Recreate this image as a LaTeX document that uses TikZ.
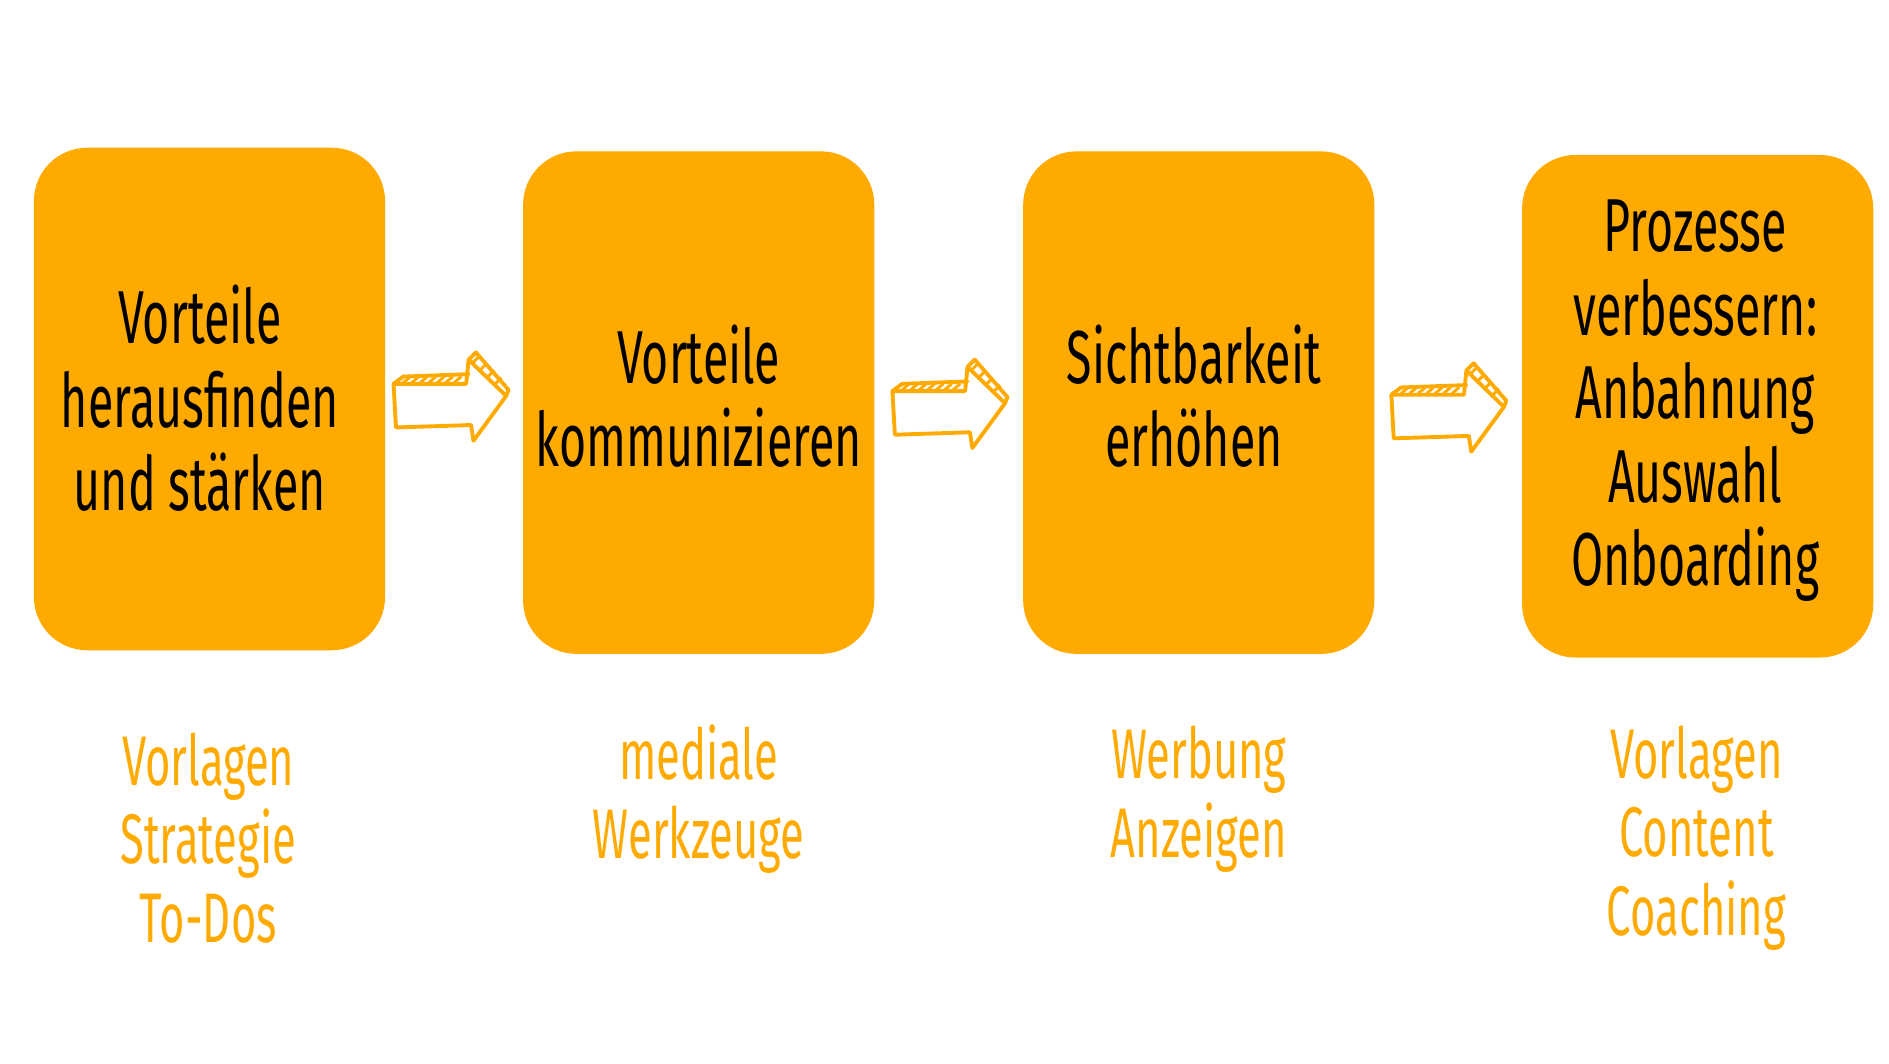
\documentclass[tikz,border=0pt]{standalone}
\usepackage{fontspec}
\setmainfont[FakeStretch=0.62]{Fira Sans}
\definecolor{org}{HTML}{FFAA00}
\tikzset{
 box/.style={fill=org,rounded corners=22pt,minimum width=145pt,minimum height=207.5pt,inner sep=0pt},
 btxt/.style={align=center,font=\fontsize{31}{34.5}\selectfont,text=black},
 ltxt/.style={align=center,font=\fontsize{29}{32.5}\selectfont,text=org},
 sk/.style={draw=org,line width=1.6pt,line join=round,line cap=round},
 pics/skarrow/.style={code={
  \draw[sk] (0,20)--(60,20)--(62,0)--(93,30)--(66,67)--(64,54)--(2,56)--cycle;
  \draw[sk] (0,20)--(8,14)--(62,12) (62,0)--(68,-6)--(95,25)--(93,30);
  \foreach \i in {0,...,6}{\draw[draw=org,line width=1.2pt] (8+7*\i,19)--(14+7*\i,14);}
  \foreach \i in {0,...,3}{\draw[draw=org,line width=1.2pt] (66+6*\i,2+6*\i)--(71+6*\i,-3+6*\i);}
 }}}
\begin{document}
\begin{tikzpicture}[x=0.5pt,y=-0.5pt]
\useasboundingbox (0,0) rectangle (1560,878);
\node[box] (b1) at (173,329.5) {};
\node[box] (b2) at (577,332.5) {};
\node[box] (b3) at (990,332.5) {};
\node[box] (b4) at (1402,335.5) {};
\node[btxt] (t1) at (165,329) {Vorteile\\herausfinden\\und stärken};
\node[btxt] (t2) at (577,327) {Vorteile\\kommunizieren};
\node[btxt] (t3) at (986,327) {Sichtbarkeit\\erhöhen};
\node[btxt] (t4) at (1400,331) {Prozesse\\verbessern:\\Anbahnung\\Auswahl\\Onboarding};
\node[ltxt] (l1) at (172,692) {Vorlagen\\Strategie\\To-Dos};
\node[ltxt] (l2) at (577,660) {mediale\\Werkzeuge};
\node[ltxt] (l3) at (990,660) {Werbung\\Anzeigen};
\node[ltxt] (l4) at (1401,692) {Vorlagen\\Content\\Coaching};
\pic at (325,297) {skarrow};
\pic at (737,303) {skarrow};
\pic at (1149,306) {skarrow};
\end{tikzpicture}
\end{document}
